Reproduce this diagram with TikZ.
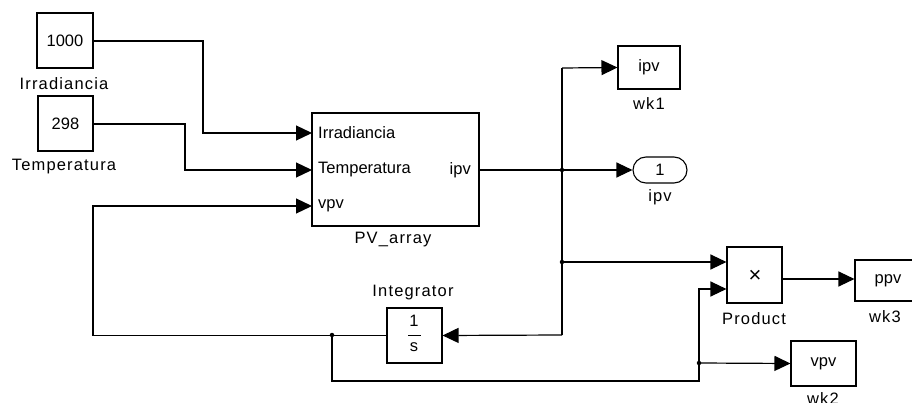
\documentclass[tikz,border=0pt]{standalone}
\usepackage{fontspec}
\setmainfont{Liberation Sans}
\newfontfamily\lblfont{Liberation Sans}[LetterSpace=7]
\usetikzlibrary{arrows.meta,shapes.misc}
\begin{document}
\begin{tikzpicture}[x=1pt,y=-1pt,
  blk/.style={draw,line width=1.1pt,inner sep=0pt,font=\fontsize{16.5}{19}\selectfont},
  lbl/.style={inner sep=0pt,font=\fontsize{16.5}{19}\selectfont\lblfont},
  txt/.style={inner sep=0pt,font=\fontsize{16.5}{19}\selectfont},
  wire/.style={line width=1.2pt},
  arr/.style={line width=1.2pt,-{Triangle[length=16pt,width=15pt]}},
  dot/.style={circle,fill,inner sep=0pt,minimum size=4.5pt}]
\useasboundingbox (0,0) rectangle (912,403);
% source blocks
\node[blk,minimum width=56pt,minimum height=55pt] (c1) at (65,40.5) {1000};
\node[lbl] (c1l) at (64,84) {Irradiancia};
\node[blk,minimum width=55pt,minimum height=55pt] (c2) at (65.5,123.5) {298};
\node[lbl] (c2l) at (64,167) {Temperatura};
% PV array
\node[blk,minimum width=167pt,minimum height=113pt] (pv) at (395.5,169.5) {};
\node[txt,anchor=west] (p1) at (318,133) {Irradiancia};
\node[txt,anchor=west] (p2) at (318,170) {Temperatura};
\node[txt,anchor=west] (p3) at (318,206) {vpv};
\node[txt,anchor=east] (po) at (471,170) {ipv};
\node[lbl] (pvl) at (393,240) {PV\_array};
\coordinate (pin1) at (312,133);
\coordinate (pin2) at (312,170);
\coordinate (pin3) at (312,206);
\coordinate (pout) at (479,170);
% sinks
\node[blk,minimum width=62pt,minimum height=43pt] (wk1) at (649,67.5) {ipv};
\node[lbl] (wk1l) at (649,104) {wk1};
\node[blk,rounded rectangle,minimum width=54pt,minimum height=26pt] (out1) at (660,170) {1};
\node[lbl] (out1l) at (660,197) {ipv};
\node[blk,minimum width=55pt,minimum height=56pt] (prod) at (754.5,275) {};
\node[inner sep=0pt,font=\fontsize{22}{24}\selectfont] (x) at (755,276) {×};
\node[lbl] (prodl) at (754,319) {Product};
\node[blk,minimum width=66pt,minimum height=41pt] (wk3) at (888,280.5) {ppv};
\node[lbl] (wk3l) at (885,317) {wk3};
\node[blk,minimum width=65pt,minimum height=45pt] (wk2) at (823.5,363.5) {vpv};
\node[lbl] (wk2l) at (823,399) {wk2};
% integrator
\node[blk,minimum width=55pt,minimum height=55pt] (int) at (414.5,335.5) {};
\node[txt] (i1) at (414,321) {1};
\node[txt] (i2) at (414,347) {s};
\draw[line width=1pt] (408,335) -- (421,335);
\node[lbl] (intl) at (413,293) {Integrator};
% junctions
\coordinate (j1) at (562,170);
\coordinate (j0) at (562,68);
\coordinate (j2) at (562,262);
\coordinate (j3) at (562,335);
\coordinate (j4) at (332,335);
\coordinate (j5) at (699,363);
% wires
\draw[arr] (c1.east |- 0,41) -| (203,133) -- (pin1);
\draw[arr] (c2.east |- 0,124) -| (185,170) -- (pin2);
\draw[arr] (pout) -- (out1.west);
\draw[arr] (j0) -- (wk1.west);
\draw[wire] (j0) -- (j3);
\draw[arr] (j3) -- (int.east);
\draw[arr] (j2) -- (prod.west |- j2);
\draw[arr] (int.west) -| (93,206) -- (pin3);
\draw[arr] (j4) |- (699,381) -- (699,289) -- (prod.west |- 0,289);
\draw[arr] (j5) -- (wk2.west);
\draw[arr] (prod.east |- 0,279) -- (wk3.west |- 0,279);
\foreach \j in {j1,j2,j4,j5} \node[dot] at (\j) {};
\end{tikzpicture}
\end{document}
